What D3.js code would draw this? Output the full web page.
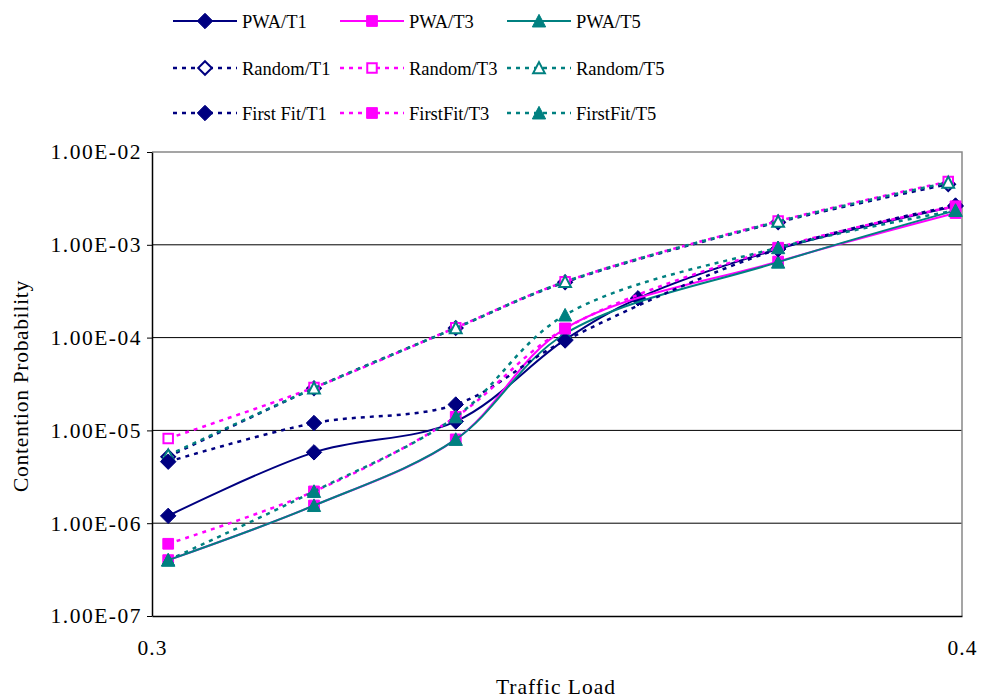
<!DOCTYPE html>
<html>
<head>
<meta charset="utf-8">
<script src="https://cdn.jsdelivr.net/npm/d3@7"></script>
<style>
	body { margin: 0; background: #fff; }
	text { font-family: "Liberation Serif", "Times New Roman", serif; fill: #000; }
</style>
</head>
<body>
<svg id="chart" width="982" height="700"></svg>
<script>
// Chart data
var pwaLoad = [0.302, 0.32, 0.3375, 0.351, 0.36, 0.3773, 0.3992],
	pwaT1 = [1.2e-6, 5.8e-6, 1.25e-5, 9.5e-5, 2.65e-4, 9.0e-4, 2.6e-3],
	pwaT3Load = [0.302, 0.32, 0.3375, 0.351, 0.3773, 0.3992],
	pwaT3 = [4.0e-7, 1.55e-6, 8.0e-6, 1.25e-4, 6.6e-4, 2.2e-3],
	pwaT5 = [4.0e-7, 1.55e-6, 8.0e-6, 1.1e-4, 6.5e-4, 2.35e-3];

var randomLoad = [0.302, 0.32, 0.3375, 0.351, 0.3773, 0.3983],
	randomT1 = [5.2e-6, 2.85e-5, 1.27e-4, 3.95e-4, 1.75e-3, 4.5e-3],
	randomT3 = [8.2e-6, 2.9e-5, 1.28e-4, 4.0e-4, 1.8e-3, 4.8e-3],
	randomT5 = [5.4e-6, 2.85e-5, 1.27e-4, 4.0e-4, 1.78e-3, 4.7e-3];

var firstFitLoad = [0.302, 0.32, 0.3375, 0.351, 0.3773, 0.3992],
	firstFitT1 = [4.6e-6, 1.2e-5, 1.9e-5, 9.3e-5, 9.0e-4, 2.65e-3],
	firstFitT3 = [6.0e-7, 2.2e-6, 1.4e-5, 1.25e-4, 9.3e-4, 2.6e-3],
	firstFitT5 = [4.0e-7, 2.2e-6, 1.4e-5, 1.75e-4, 9.3e-4, 2.35e-3];

var seriesNames = ["PWA/T1", "PWA/T3", "PWA/T5",
	"Random/T1", "Random/T3", "Random/T5",
	"First Fit/T1", "FirstFit/T3", "FirstFit/T5"];

var xTicks = [0.3, 0.4],
	yTicks = [1e-7, 1e-6, 1e-5, 1e-4, 1e-3, 1e-2],
	yTickLabels = ["1.00E-07", "1.00E-06", "1.00E-05", "1.00E-04", "1.00E-03", "1.00E-02"];

var navy = "#000080", magenta = "#ff00ff", teal = "#008080";

var series = [
	{name: seriesNames[0], x: pwaLoad, y: pwaT1, color: navy, shape: "diamond", open: false, dashed: false},
	{name: seriesNames[1], x: pwaT3Load, y: pwaT3, color: magenta, shape: "square", open: false, dashed: false},
	{name: seriesNames[2], x: pwaT3Load, y: pwaT5, color: teal, shape: "triangle", open: false, dashed: false},
	{name: seriesNames[3], x: randomLoad, y: randomT1, color: navy, shape: "diamond", open: true, dashed: true},
	{name: seriesNames[4], x: randomLoad, y: randomT3, color: magenta, shape: "square", open: true, dashed: true},
	{name: seriesNames[5], x: randomLoad, y: randomT5, color: teal, shape: "triangle", open: true, dashed: true},
	{name: seriesNames[6], x: firstFitLoad, y: firstFitT1, color: navy, shape: "diamond", open: false, dashed: true},
	{name: seriesNames[7], x: firstFitLoad, y: firstFitT3, color: magenta, shape: "square", open: false, dashed: true},
	{name: seriesNames[8], x: firstFitLoad, y: firstFitT5, color: teal, shape: "triangle", open: false, dashed: true}
];

var svg = d3.select("#chart"),
	plotLeft = 152, plotRight = 962, plotTop = 152, plotBottom = 616,
	dashPattern = "4,5";

var x = d3.scaleLinear().domain([0.3, 0.4]).range([plotLeft, plotRight]),
	y = d3.scaleLog().domain([1e-7, 1e-2]).range([plotBottom, plotTop]);

// marker shapes like the spreadsheet ones
var shapes = {
	diamond: {draw: function(c, s) { var r = Math.sqrt(s) * 0.72;
		c.moveTo(0, -r); c.lineTo(r, 0); c.lineTo(0, r); c.lineTo(-r, 0); c.closePath(); }},
	square: {draw: function(c, s) { var r = Math.sqrt(s) / 2;
		c.rect(-r, -r, 2 * r, 2 * r); }},
	triangle: {draw: function(c, s) { var r = Math.sqrt(s) * 0.62;
		c.moveTo(0, -r); c.lineTo(r, r * 0.9); c.lineTo(-r, r * 0.9); c.closePath(); }}
};

function marker(d) {
	var size = d.open ? 90 : 115;
	return d3.symbol().type(shapes[d.shape]).size(size)();
}

// --- GRID --- //
svg.append("g").selectAll("line")
	.data(yTicks.slice(1, -1))
	.enter().append("line")
	.attr("x1", plotLeft).attr("x2", plotRight)
	.attr("y1", function(d) { return y(d); })
	.attr("y2", function(d) { return y(d); })
	.attr("stroke", "#000").attr("stroke-width", 1);

// plot border (top / right grey)
svg.append("path")
	.attr("d", "M" + plotLeft + "," + plotTop + "H" + plotRight + "V" + plotBottom)
	.attr("fill", "none").attr("stroke", "#888").attr("stroke-width", 1.5);

// --- AXES --- //
var yAxis = d3.axisLeft(y)
	.tickValues(yTicks)
	.tickFormat(function(d, i) { return yTickLabels[i]; })
	.tickSize(5).tickSizeOuter(0).tickPadding(5);

svg.append("g")
	.attr("transform", "translate(" + plotLeft + ",0)")
	.call(yAxis)
	.call(function(g) {
		g.select(".domain").attr("stroke", "#000").attr("stroke-width", 1.5);
		g.selectAll("text").attr("font-size", 21.5).attr("letter-spacing", 1.5)
			.attr("font-family", "Liberation Serif");
	});

var xAxis = d3.axisBottom(x)
	.tickValues(xTicks)
	.tickFormat(d3.format(".1f"))
	.tickSize(0).tickPadding(24);

svg.append("g")
	.attr("transform", "translate(0," + plotBottom + ")")
	.call(xAxis)
	.call(function(g) {
		g.select(".domain").attr("stroke", "#000").attr("stroke-width", 1.5);
		g.selectAll("text").attr("font-size", 21.5).attr("letter-spacing", 1)
			.attr("font-family", "Liberation Serif");
	});

svg.append("text")
	.attr("x", 556).attr("y", 694)
	.attr("text-anchor", "middle")
	.attr("font-size", 21.5)
	.attr("letter-spacing", 1)
	.text("Traffic Load");

svg.append("text")
	.attr("transform", "translate(28,386) rotate(-90)")
	.attr("text-anchor", "middle")
	.attr("font-size", 21.5)
	.attr("letter-spacing", 0.7)
	.text("Contention Probability");

// --- LINES --- //
var line = d3.line()
	.x(function(d) { return x(d[0]); })
	.y(function(d) { return y(d[1]); })
	.curve(d3.curveCatmullRom.alpha(0.5));

var group = svg.append("g").selectAll(".series")
	.data(series)
	.enter().append("g")
	.attr("class", "series");

group.append("path")
	.attr("d", function(d) { return line(d3.zip(d.x, d.y)); })
	.attr("fill", "none")
	.attr("stroke", function(d) { return d.color; })
	.attr("stroke-width", function(d) { return d.dashed ? 2.5 : 2; })
	.attr("stroke-dasharray", function(d) { return d.dashed ? dashPattern : null; });

// --- MARKERS --- //
group.selectAll(".pt")
	.data(function(d) { return d.x.map(function(v, i) { return {s: d, x: v, y: d.y[i]}; }); })
	.enter().append("path")
	.attr("class", "pt")
	.attr("transform", function(d) { return "translate(" + x(d.x) + "," + y(d.y) + ")"; })
	.attr("d", function(d) { return marker(d.s); })
	.attr("fill", function(d) { return d.s.open ? "#fff" : d.s.color; })
	.attr("stroke", function(d) { return d.s.color; })
	.attr("stroke-width", function(d) { return d.s.open ? 2 : 1; });

// --- LEGEND --- //
var legendCols = [173, 340, 507],
	legendRows = [21, 68, 113],
	sampleLen = 64;

var item = svg.append("g").selectAll(".legend")
	.data(series)
	.enter().append("g")
	.attr("class", "legend")
	.attr("transform", function(d, i) {
		return "translate(" + legendCols[i % 3] + "," + legendRows[Math.floor(i / 3)] + ")";
	});

item.append("line")
	.attr("x1", 0).attr("x2", sampleLen)
	.attr("stroke", function(d) { return d.color; })
	.attr("stroke-width", function(d) { return d.dashed ? 2.5 : 2; })
	.attr("stroke-dasharray", function(d) { return d.dashed ? dashPattern : null; });

item.append("path")
	.attr("transform", "translate(" + (sampleLen / 2) + ",0)")
	.attr("d", marker)
	.attr("fill", function(d) { return d.open ? "#fff" : d.color; })
	.attr("stroke", function(d) { return d.color; })
	.attr("stroke-width", function(d) { return d.open ? 2 : 1; });

item.append("text")
	.attr("x", sampleLen + 5)
	.attr("y", 6.5)
	.attr("font-size", 18.5)
	.text(function(d) { return d.name; });
</script>
</body>
</html>
